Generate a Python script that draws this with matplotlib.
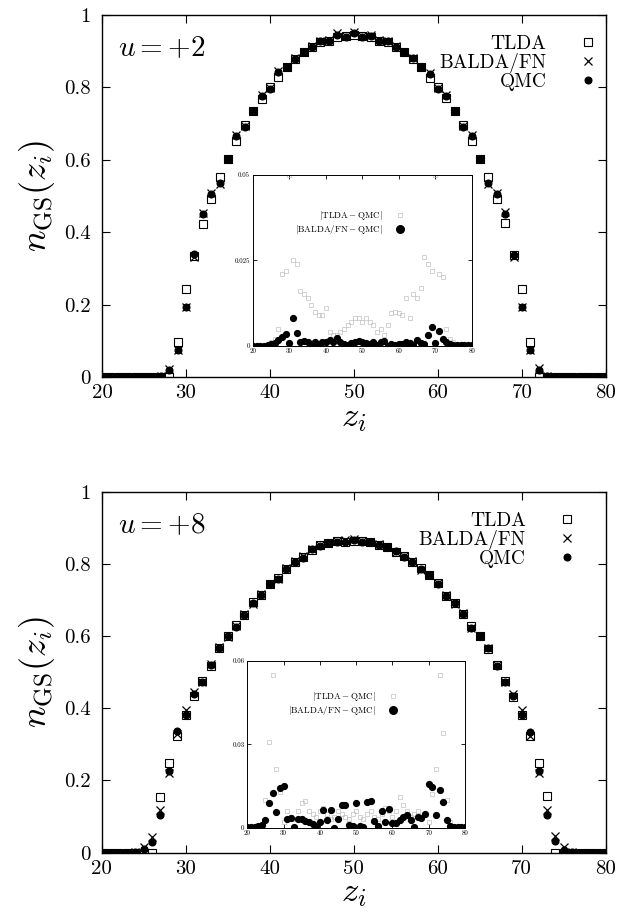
import matplotlib
matplotlib.use('Agg')
import matplotlib.pyplot as plt
import numpy as np

plt.rcParams['font.family'] = 'serif'
plt.rcParams['font.serif'] = ['cmr10', 'DejaVu Serif']
plt.rcParams['mathtext.fontset'] = 'cm'
plt.rcParams['axes.unicode_minus'] = False

# sites z_i
z = np.arange(20, 81)

# u = +2 : ground-state densities
qmc_u2 = [0, 0, 0, 0, 0, 0, 0, 0.002, 0.020, 0.076, 0.193,
          0.339, 0.449, 0.506, 0.535, 0.603, 0.665, 0.690, 0.736, 0.776, 0.795,
          0.842, 0.856, 0.878, 0.897, 0.911, 0.927, 0.929, 0.945, 0.940, 0.950,
          0.940, 0.943, 0.929, 0.927, 0.911, 0.899, 0.880, 0.856, 0.837, 0.795,
          0.777, 0.736, 0.690, 0.667, 0.603, 0.535, 0.506, 0.450, 0.338, 0.193,
          0.076, 0.020, 0.002, 0, 0, 0, 0, 0, 0, 0]
tlda_u2 = [0, 0, 0, 0, 0, 0, 0, 0, 0, 0.098, 0.244,
           0.335, 0.423, 0.492, 0.552, 0.603, 0.653, 0.697, 0.736, 0.768, 0.802,
           0.828, 0.856, 0.878, 0.897, 0.911, 0.925, 0.929, 0.940, 0.943, 0.945,
           0.943, 0.940, 0.929, 0.925, 0.911, 0.897, 0.878, 0.856, 0.825, 0.802,
           0.770, 0.736, 0.697, 0.653, 0.603, 0.552, 0.492, 0.425, 0.338, 0.244,
           0.098, 0, 0, 0, 0, 0, 0, 0, 0, 0]
balda_u2 = [0, 0, 0, 0, 0, 0, 0, 0.003, 0.023, 0.076, 0.193,
            0.331, 0.452, 0.509, 0.532, 0.603, 0.668, 0.692, 0.736, 0.778, 0.797,
            0.845, 0.856, 0.880, 0.897, 0.913, 0.929, 0.931, 0.950, 0.942, 0.952,
            0.942, 0.946, 0.931, 0.929, 0.913, 0.899, 0.882, 0.856, 0.839, 0.797,
            0.779, 0.736, 0.692, 0.669, 0.603, 0.532, 0.509, 0.455, 0.332, 0.193,
            0.076, 0.025, 0.003, 0, 0, 0, 0, 0, 0, 0]

# u = +8 : ground-state densities
qmc_u8 = [0, 0, 0, 0, 0.002, 0.010, 0.029, 0.103, 0.225, 0.336, 0.382,
          0.440, 0.474, 0.520, 0.566, 0.599, 0.626, 0.659, 0.691, 0.714, 0.743,
          0.757, 0.785, 0.806, 0.817, 0.840, 0.850, 0.857, 0.860, 0.860, 0.866,
          0.860, 0.860, 0.853, 0.848, 0.836, 0.820, 0.806, 0.785, 0.769, 0.743,
          0.712, 0.691, 0.660, 0.622, 0.599, 0.566, 0.518, 0.474, 0.435, 0.381,
          0.333, 0.225, 0.105, 0.031, 0.008, 0.002, 0, 0, 0, 0]
tlda_u8 = [0, 0, 0, 0, 0, 0, 0, 0.155, 0.248, 0.322, 0.382,
           0.435, 0.476, 0.518, 0.566, 0.599, 0.630, 0.659, 0.694, 0.714, 0.743,
           0.760, 0.785, 0.804, 0.820, 0.838, 0.852, 0.857, 0.862, 0.860, 0.864,
           0.862, 0.860, 0.851, 0.846, 0.834, 0.823, 0.806, 0.788, 0.769, 0.746,
           0.712, 0.691, 0.660, 0.627, 0.599, 0.563, 0.520, 0.476, 0.432, 0.380,
           0.322, 0.248, 0.156, 0, 0, 0, 0, 0, 0, 0]
balda_u8 = [0, 0, 0, 0, 0.003, 0.017, 0.043, 0.119, 0.220, 0.330, 0.396,
            0.445, 0.472, 0.522, 0.570, 0.598, 0.628, 0.662, 0.690, 0.716, 0.745,
            0.757, 0.788, 0.808, 0.822, 0.840, 0.852, 0.858, 0.862, 0.866, 0.869,
            0.862, 0.860, 0.855, 0.846, 0.834, 0.823, 0.809, 0.784, 0.769, 0.746,
            0.714, 0.690, 0.664, 0.622, 0.601, 0.566, 0.521, 0.472, 0.440, 0.396,
            0.322, 0.220, 0.119, 0.045, 0.015, 0.003, 0, 0, 0, 0]

# insets: absolute deviations from QMC
dtlda_u2 = [0, 0, 0, 0, 0, 0.001, 0.002, 0.005, 0.021, 0.022, 0.050,
            0.025, 0.024, 0.016, 0.015, 0.014, 0.012, 0.010, 0.009, 0.009, 0.011,
            0.004, 0.003, 0.003, 0.004, 0.005, 0.006, 0.007, 0.008, 0.008, 0.007,
            0.008, 0.007, 0.006, 0.004, 0.005, 0.003, 0.006, 0.0095, 0.010, 0.0095,
            0.009, 0.014, 0.008, 0.015, 0.014, 0.017, 0.026, 0.024, 0.022, 0.050,
            0.021, 0.020, 0.005, 0.002, 0.001, 0, 0, 0, 0, 0]
dbalda_u2 = [0, 0, 0, 0, 0.0002, 0.0005, 0.0009, 0.0017, 0.0026, 0.0034, 0.0008,
             0.0082, 0.0036, 0.0010, 0.0015, 0.0012, 0.0005, 0.0010, 0.0003, 0.0012, 0.0010,
             0.0018, 0.0012, 0.0022, 0.0010, 0.0005, 0.0003, 0.0008, 0.0012, 0.0015, 0.0012,
             0.0008, 0.0005, 0.0010, 0.0003, 0.0012, 0.0015, 0.0000, 0.0005, 0.0003, 0.0005,
             0.0005, 0.0012, 0.0008, 0.0003, 0.0017, 0.0007, 0.0005, 0.0030, 0.0056, 0.0009,
             0.0043, 0.0021, 0.0012, 0.0006, 0.0003, 0.0002, 0.0001, 0.0001, 0.0001, 0.0001]
dtlda_u8 = [0, 0, 0, 0, 0.0015, 0.010, 0.031, 0.055, 0.021, 0.013, 0.002,
            0.006, 0.004, 0.003, 0.006, 0.009, 0.0095, 0.006, 0.005, 0.004, 0.006,
            0.007, 0.005, 0.003, 0.004, 0.006, 0.005, 0.004, 0.003, 0.005, 0.006,
            0.004, 0.003, 0.005, 0.006, 0.004, 0.003, 0.005, 0.007, 0.006, 0.004,
            0.006, 0.011, 0.008, 0.006, 0.004, 0.005, 0.006, 0.004, 0.005, 0.002,
            0.012, 0.021, 0.055, 0.034, 0.010, 0.002, 0, 0, 0, 0]
dbalda_u8 = [0.0003, 0.0003, 0.0003, 0.0005, 0.0008, 0.0028, 0.0088, 0.0124, 0.0058, 0.0142, 0.0151,
             0.0030, 0.0035, 0.0002, 0.0030, 0.0030, 0.0025, 0.0020, 0.0012, 0.0005, 0.0020,
             0.0064, 0.0028, 0.0064, 0.0000, 0.0030, 0.0080, 0.0080, 0.0010, 0.0006, 0.0090,
             0.0006, 0.0004, 0.0094, 0.0097, 0.0025, 0.0006, 0.0060, 0.0020, 0.0066, 0.0016,
             0.0018, 0.0028, 0.0037, 0.0044, 0.0028, 0.0004, 0.0040, 0.0034, 0.0050, 0.0157,
             0.0148, 0.0046, 0.0136, 0.0094, 0.0028, 0.0005, 0.0003, 0.0003, 0.0003, 0.0003]

xticks = [20, 30, 40, 50, 60, 70, 80]
yticks = [0, 0.2, 0.4, 0.6, 0.8, 1]
ytick_labels = ['0', '0.2', '0.4', '0.6', '0.8', '1']


def main_panel(ax, tlda, balda, qmc, title, leg_x):
    ax.plot(z, tlda, 's', ms=5.2, mfc='white', mec='black', mew=0.8, label='TLDA')
    ax.plot(z, balda, 'x', ms=6, mec='black', mew=0.9, label='BALDA/FN')
    ax.plot(z, qmc, 'o', ms=4.8, mfc='black', mec='black', label='QMC')
    ax.set_xlim(20, 80)
    ax.set_ylim(0, 1)
    ax.set_xticks(xticks)
    ax.set_xticklabels([str(t) for t in xticks])
    ax.set_yticks(yticks)
    ax.set_yticklabels(ytick_labels)
    ax.tick_params(direction='in', top=True, right=True, length=6, width=0.8,
                   labelsize=15)
    ax.tick_params(axis='y', pad=8)
    ax.tick_params(axis='x', pad=5)
    ax.set_xlabel(r'$z_i$', fontsize=25, labelpad=0)
    ax.set_ylabel(r'$n_{\rm GS}(z_i)$', fontsize=26, labelpad=5)
    ax.text(0.032, 0.905, title, transform=ax.transAxes, fontsize=21,
            va='center', ha='left')
    ax.legend(loc='upper right', bbox_to_anchor=(leg_x, 0.944), frameon=False,
              markerfirst=False, fontsize=14, borderpad=0, borderaxespad=0,
              labelspacing=0.0, handletextpad=1.12, handlelength=2)
    for s in ax.spines.values():
        s.set_linewidth(1.0)


def inset_panel(ax, dtlda, dbalda, ymax, yticklabels, leg_anchor):
    ax.set_facecolor('white')
    ax.plot(z, dtlda, 's', ms=2.2, mfc='none', mec='#c0c0c0', mew=0.5,
            label=r'$|\mathrm{TLDA} - \mathrm{QMC}|$')
    ax.plot(z, dbalda, 'o', ms=4.2, mfc='black', mec='black',
            label=r'$|\mathrm{BALDA/FN} - \mathrm{QMC}|$')
    ax.set_xlim(20, 80)
    ax.set_ylim(0, ymax)
    ax.set_xticks(xticks)
    ax.set_xticklabels([str(t) for t in xticks])
    ax.set_yticks([0, ymax / 2, ymax])
    ax.set_yticklabels(yticklabels)
    ax.tick_params(direction='in', top=True, right=True, length=3, width=0.6,
                   labelsize=5, pad=2)
    for s in ax.spines.values():
        s.set_linewidth(0.7)
    ax.legend(loc='upper right', bbox_to_anchor=leg_anchor, frameon=False,
              markerfirst=False, fontsize=6.5, borderpad=0, borderaxespad=0,
              labelspacing=0.15, handletextpad=0.9, handlelength=2,
              markerscale=1.3)


fig = plt.figure(figsize=(6.17, 9.14), dpi=100)

ax1 = fig.add_axes([0.1653, 0.5875, 0.8169, 0.3961])
main_panel(ax1, tlda_u2, balda_u2, qmc_u2, r'$u = +2$', 1.002)
in1 = fig.add_axes([0.410, 0.6218, 0.3545, 0.1868])
inset_panel(in1, dtlda_u2, dbalda_u2, 0.05, ['0', '0.025', '0.05'], (0.713, 0.80))

ax2 = fig.add_axes([0.1648, 0.0671, 0.8169, 0.3950])
main_panel(ax2, tlda_u8, balda_u8, qmc_u8, r'$u = +8$', 0.962)
in2 = fig.add_axes([0.4008, 0.0944, 0.3528, 0.1824])
inset_panel(in2, dtlda_u8, dbalda_u8, 0.06, ['0', '0.03', '0.06'], (0.712, 0.826))

fig.savefig('out.png', dpi=100)
